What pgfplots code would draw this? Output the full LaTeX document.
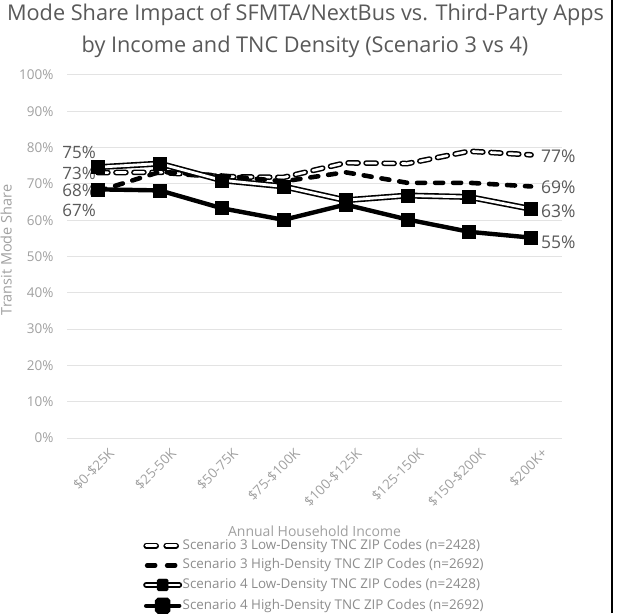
\documentclass[border=0pt]{standalone}
\usepackage{fontspec}
\setmainfont{Open Sans}
\usepackage{pgfplots}
\pgfplotsset{compat=1.18}
\definecolor{tickgray}{HTML}{A0A0A0}
\definecolor{titlegray}{HTML}{595959}
\definecolor{gridgray}{HTML}{E3E3E3}
\definecolor{labgray}{HTML}{595959}
\definecolor{leggray}{HTML}{8C8C8C}
\begin{document}
\begin{tikzpicture}[x=1pt,y=1pt]
\path[use as bounding box] (0,0) rectangle (618,613);
\draw[black, line width=2pt] (611.5,0) -- (611.5,613);
\node[font=\fontsize{21.7}{24}\selectfont, text=titlegray] at (305.5,598) {Mode Share Impact of SFMTA/NextBus vs. Third-Party Apps};
\node[font=\fontsize{21.7}{24}\selectfont, text=titlegray] at (305,566) {by Income and TNC Density (Scenario 3 vs 4)};
\begin{axis}[
  at={(67pt,175pt)}, anchor=south west,
  scale only axis, width=495pt, height=363pt,
  xmin=-0.5, xmax=7.5, ymin=0, ymax=100,
  clip=false,
  axis line style={draw=none},
  major tick style={draw=none},
  ymajorgrids, grid style={gridgray, line width=1pt},
  ytick={0,10,...,100},
  /pgf/number format/assume math mode=true,
  yticklabel={\pgfmathprintnumber{\tick}\%},
  yticklabel style={text=tickgray, font=\fontsize{13.5}{13.5}\selectfont, xshift=-10pt},
  xtick={0,1,2,3,4,5,6,7},
  xticklabels={\$0-\$25K,\$25-50K,\$50-75K,\$75-\$100K,\$100-\$125K,\$125-150K,\$150-\$200K,\$200K+},
  xticklabel style={rotate=45, anchor=east, text=tickgray, font=\fontsize{13.5}{13.5}\selectfont, xshift=4pt, yshift=-19pt},
  ylabel={Transit Mode Share},
  ylabel style={text=tickgray, font=\fontsize{14.5}{14.5}\selectfont, at={(axis description cs:-0.123,0.518)}, anchor=center},
  xlabel={Annual Household Income},
  xlabel style={text=tickgray, font=\fontsize{14}{14}\selectfont, at={(axis description cs:0.5,-0.257)}, anchor=center},
  legend style={at={(axis description cs:0.1535,-0.277)}, anchor=north west, draw=none, fill=none,
    font=\fontsize{13.4}{13.4}\selectfont, text=leggray, row sep=5.6pt, inner sep=0pt,
    nodes={inner sep=0.5pt, text height=10pt, text depth=3pt}},
  legend cell align=left,
]
% Scenario 3 Low-Density
\addplot[black, line width=1.5pt, double=white, double distance=2.6pt, dash pattern=on 10pt off 8pt, line cap=round,
  legend image code/.code={\draw[black, line width=1.5pt, double=white, double distance=2.6pt, line cap=round] (1pt,0pt)--(14pt,0pt); \draw[black, line width=1.5pt, double=white, double distance=2.6pt, line cap=round] (21pt,0pt)--(34pt,0pt);}]
 coordinates {(0,73.1) (1,73.2) (2,72) (3,71.8) (4,75.8) (5,75.6) (6,79) (7,78)};
\addlegendentry{Scenario 3 Low-Density TNC ZIP Codes (n=2428)}
% Scenario 3 High-Density
\addplot[black, line width=4.6pt, dash pattern=on 8pt off 10pt, line cap=round,
  legend image code/.code={\draw[black, line width=4.6pt, line cap=round] (2pt,0pt)--(13pt,0pt); \draw[black, line width=4.6pt, line cap=round] (22pt,0pt)--(33pt,0pt);}]
 coordinates {(0,68) (1,73.3) (2,72.3) (3,70.7) (4,73.2) (5,70.3) (6,70.3) (7,69.3)};
\addlegendentry{Scenario 3 High-Density TNC ZIP Codes (n=2692)}
% Scenario 4 Low-Density line
\addplot[black, line width=1.6pt, double=white, double distance=2.8pt, forget plot]
 coordinates {(0,74.6) (1,75.6) (2,71) (3,69.3) (4,65.5) (5,66.8) (6,66.4) (7,63.1)};
\addplot[only marks, mark=square*, mark size=6.5pt, mark options={fill=black, draw=black, line width=0.5pt, rounded corners=1.5pt},
  legend image code/.code={\draw[black, line width=1.6pt, double=white, double distance=2.8pt, line cap=round] (1pt,0pt)--(34pt,0pt); \fill[black, rounded corners=1.5pt] (12pt,-6pt) rectangle (23pt,6pt);}]
 coordinates {(0,74.6) (1,75.6) (2,71) (3,69.3) (4,65.5) (5,66.8) (6,66.4) (7,63.1)};
\addlegendentry{Scenario 4 Low-Density TNC ZIP Codes (n=2428)}
% Scenario 4 High-Density
\addplot[black, line width=4.4pt, mark=square*, mark size=6.5pt, mark options={fill=black, draw=black, line width=0.5pt, rounded corners=1.5pt},
  legend image code/.code={\draw[black, line width=4.4pt, line cap=round] (1pt,0pt)--(34pt,0pt); \fill[black, rounded corners=1.5pt] (12pt,-6pt) rectangle (23pt,6pt);}]
 coordinates {(0,68.5) (1,68.2) (2,63.3) (3,60.1) (4,64.3) (5,60.2) (6,56.8) (7,55.2)};
\addlegendentry{Scenario 4 High-Density TNC ZIP Codes (n=2692)}
% data labels
\begin{scope}[every node/.style={font=\fontsize{17}{17}\selectfont, text=labgray, inner sep=0pt}]
\node[anchor=east] at (axis cs:-0.03,78.8) {75\%};
\node[anchor=east] at (axis cs:-0.03,73.0) {73\%};
\node[anchor=east] at (axis cs:-0.03,68.3) {68\%};
\node[anchor=east] at (axis cs:-0.03,62.8) {67\%};
\end{scope}
\begin{scope}[every node/.style={font=\fontsize{17.5}{17.5}\selectfont, text=labgray, inner sep=0pt}]
\node[anchor=west] at (axis cs:7.16,77.7) {77\%};
\node[anchor=west] at (axis cs:7.16,69.1) {69\%};
\node[anchor=west] at (axis cs:7.16,62.5) {63\%};
\node[anchor=west] at (axis cs:7.16,54.0) {55\%};
\end{scope}
\end{axis}
\end{tikzpicture}
\end{document}
